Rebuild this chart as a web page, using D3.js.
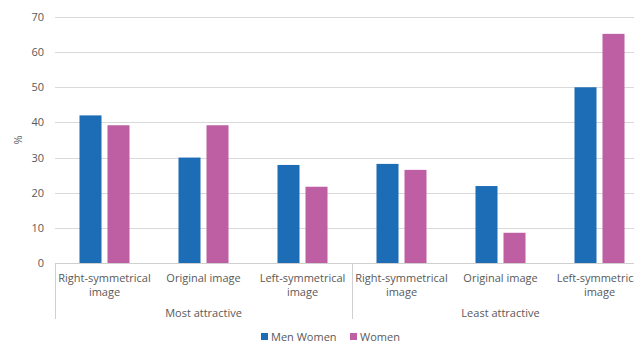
<!DOCTYPE html>
<html>
<meta charset="utf-8">
<title>Attractiveness ratings</title>
<style>
  html, body { margin: 0; padding: 0; background: #fff; }
  text { font-family: "Open Sans", sans-serif; fill: #595959; }
  .grid line { stroke: #d9d9d9; stroke-width: 1; }
  .domain { display: none; }
</style>
<body>
<div id="chart"></div>
<script src="https://d3js.org/d3.v7.min.js"></script>
<script>
  // data
  var categories = ["Right-symmetrical image", "Original image", "Left-symmetrical image",
                    "Right-symmetrical image", "Original image", "Left-symmetrical image"];
  var groups = ["Most attractive", "Least attractive"];
  var series = ["Men Women", "Women"];
  var menValues = [42, 30, 27.9, 28.2, 21.9, 50];
  var womenValues = [39.2, 39.2, 21.7, 26.5, 8.6, 65.2];
  var yTicks = [0, 10, 20, 30, 40, 50, 60, 70];
  var colors = ["#1c6cb6", "#be5fa3"];

  var W = 634, H = 341;
  var plot = { left: 55, right: 649, top: 17, bottom: 263 };

  var svg = d3.select("#chart").append("svg")
      .attr("width", W)
      .attr("height", H);

  var x0 = d3.scaleBand()
      .domain(d3.range(categories.length))
      .range([plot.left, plot.right]);

  var x1 = d3.scaleBand()
      .domain(series)
      .range([0, x0.bandwidth()])
      .paddingInner(0.214)
      .paddingOuter(0.875);

  var y = d3.scaleLinear()
      .domain([0, 70])
      .range([plot.bottom, plot.top]);

  // gridlines
  svg.append("g").attr("class", "grid")
    .selectAll("line")
    .data(yTicks.slice(1))
    .enter().append("line")
      .attr("x1", plot.left).attr("x2", plot.right)
      .attr("y1", function(d) { return Math.round(y(d)) + 0.5; })
      .attr("y2", function(d) { return Math.round(y(d)) + 0.5; });

  // y axis labels
  var yAxis = svg.append("g")
      .attr("transform", "translate(" + plot.left + ",0)")
      .call(d3.axisLeft(y).tickValues(yTicks).tickSize(0).tickPadding(11));
  yAxis.selectAll("text").style("font-size", "11px");

  svg.append("text")
      .attr("transform", "translate(22,140) rotate(-90)")
      .attr("text-anchor", "middle")
      .style("font-size", "11px")
      .text("%");

  // bars
  var rows = categories.map(function(c, i) {
    return { i: i, values: [menValues[i], womenValues[i]] };
  });

  var g = svg.append("g").selectAll("g")
      .data(rows)
      .enter().append("g")
      .attr("transform", function(d) { return "translate(" + x0(d.i) + ",0)"; });

  g.selectAll("rect")
      .data(function(d) { return d.values.map(function(v, k) { return { s: series[k], v: v, k: k }; }); })
      .enter().append("rect")
      .attr("x", function(d) { return x1(d.s); })
      .attr("width", x1.bandwidth())
      .attr("y", function(d) { return y(d.v); })
      .attr("height", function(d) { return y(0) - y(d.v); })
      .attr("fill", function(d) { return colors[d.k]; });

  // baseline
  svg.append("line")
      .attr("x1", plot.left).attr("x2", plot.right)
      .attr("y1", plot.bottom + 0.5).attr("y2", plot.bottom + 0.5)
      .attr("stroke", "#d0d0d0");

  // category labels (two lines)
  var catText = svg.append("g").selectAll("text")
      .data(categories)
      .enter().append("text")
      .attr("text-anchor", "middle")
      .style("font-size", "11px")
      .attr("transform", function(d, i) { return "translate(" + (x0(i) + x0.bandwidth() / 2) + ",282)"; });
  catText.each(function(d) {
    var parts = d.split(" ");
    var t = d3.select(this);
    if (parts[0] === "Original") {
      t.append("tspan").attr("x", 0).attr("dy", 0).text(d);
    } else {
      t.append("tspan").attr("x", 0).attr("dy", 0).text(parts[0]);
      t.append("tspan").attr("x", 0).attr("dy", 14).text(parts.slice(1).join(" "));
    }
  });

  // group separators and labels
  var per = categories.length / groups.length;
  var seps = d3.range(groups.length + 1).map(function(k) {
    return k < groups.length ? x0(k * per) : plot.right;
  });
  svg.append("g").selectAll("line")
      .data(seps)
      .enter().append("line")
      .attr("x1", function(d) { return Math.round(d) + 0.5; })
      .attr("x2", function(d) { return Math.round(d) + 0.5; })
      .attr("y1", plot.bottom).attr("y2", 319)
      .attr("stroke", "#d0d0d0");

  svg.append("g").selectAll("text")
      .data(groups)
      .enter().append("text")
      .attr("text-anchor", "middle")
      .style("font-size", "11px")
      .attr("x", function(d, k) { return (seps[k] + seps[k + 1]) / 2; })
      .attr("y", 317)
      .text(function(d) { return d; });

  // legend
  var legendX = [261, 350];
  var leg = svg.append("g").selectAll("g")
      .data(series)
      .enter().append("g")
      .attr("transform", function(d, k) { return "translate(" + legendX[k] + ",333)"; });
  leg.append("rect")
      .attr("width", 7).attr("height", 7)
      .attr("fill", function(d, k) { return colors[k]; });
  leg.append("text")
      .attr("x", 10).attr("y", 7.5)
      .style("font-size", "11px")
      .text(function(d) { return d; });
</script>
</body>
</html>
